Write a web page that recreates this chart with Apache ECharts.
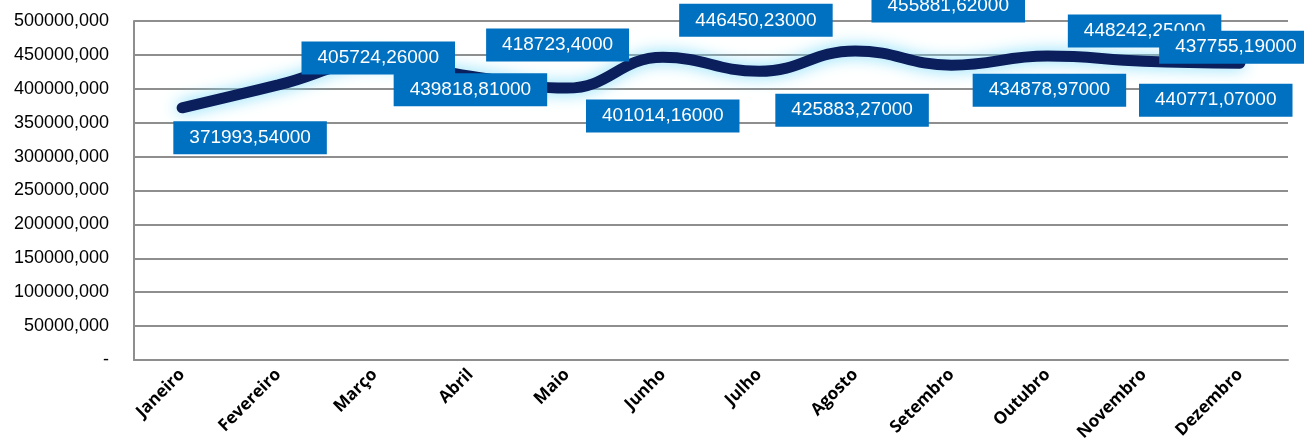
<!DOCTYPE html>
<html>
<head>
<meta charset="utf-8">
<script src="https://cdn.jsdelivr.net/npm/echarts@6/dist/echarts.min.js"></script>
<style>
  html, body { margin: 0; padding: 0; background: #fff; }
  #chart-container { width: 1304px; height: 447px; }
</style>
</head>
<body>
<div id="chart-container"></div>
<script>
var months = ['Janeiro', 'Fevereiro', 'Março', 'Abril', 'Maio', 'Junho',
    'Julho', 'Agosto', 'Setembro', 'Outubro', 'Novembro', 'Dezembro'];
var totals = [371993.54, 405724.26, 439818.81, 418723.4, 401014.16, 446450.23,
    425883.27, 455881.62, 434878.97, 448242.25, 440771.07, 437755.19];
// texts as printed on the data labels
var labelTexts = ['371993,54000', '405724,26000', '439818,81000', '418723,4000',
    '401014,16000', '446450,23000', '425883,27000', '455881,62000',
    '434878,97000', '448242,25000', '440771,07000', '437755,19000'];
// where each label box sits relative to its point
var labelOffsets = [[68, 30], [100, -27], [96, 28], [87, -31], [96, 28], [93, -37],
    [93, 39], [93, -45], [98, 25], [97, -25], [72, 39], [-4, -16]];

var dom = document.getElementById('chart-container');
var myChart = echarts.init(dom, null, { renderer: 'canvas' });

var seriesData = totals.map(function (v, i) {
    return {
        value: v,
        label: { offset: labelOffsets[i], formatter: labelTexts[i] }
    };
});

var option = {
    animation: false,
    grid: { left: 134, right: 16, top: 21, bottom: 87 },
    xAxis: {
        type: 'category',
        data: months,
        axisLine: { lineStyle: { color: '#8e8e8e', width: 2 } },
        axisTick: { show: false },
        axisLabel: {
            rotate: 45,
            margin: 12,
            interval: 0,
            color: '#000',
            fontFamily: 'Open Sans',
            fontWeight: 'bold',
            fontSize: 17
        }
    },
    yAxis: {
        type: 'value',
        min: 0,
        max: 500000,
        interval: 50000,
        axisLine: { show: true, lineStyle: { color: '#8e8e8e', width: 2 } },
        axisTick: { show: false },
        splitLine: { lineStyle: { color: '#8e8e8e', width: 2 } },
        axisLabel: {
            margin: 25,
            color: '#000',
            fontFamily: 'Liberation Sans',
            fontSize: 18,
            formatter: function (v) { return v === 0 ? '-' : v + ',000'; }
        }
    },
    series: [
        {
            type: 'line',
            data: seriesData,
            smooth: 0.45,
            symbol: 'circle',
            symbolSize: 2,
            itemStyle: { color: 'transparent' },
            lineStyle: {
                color: '#0b1f5c',
                width: 11,
                cap: 'round',
                shadowColor: '#7fdcfa',
                shadowBlur: 16
            },
            label: {
                show: true,
                position: 'inside',
                color: '#fff',
                backgroundColor: '#0070c0',
                fontFamily: 'Liberation Sans',
                fontSize: 19,
                padding: [7, 16, 7, 16]
            }
        }
    ]
};
myChart.setOption(option);
window.addEventListener('resize', myChart.resize);
</script>
</body>
</html>
